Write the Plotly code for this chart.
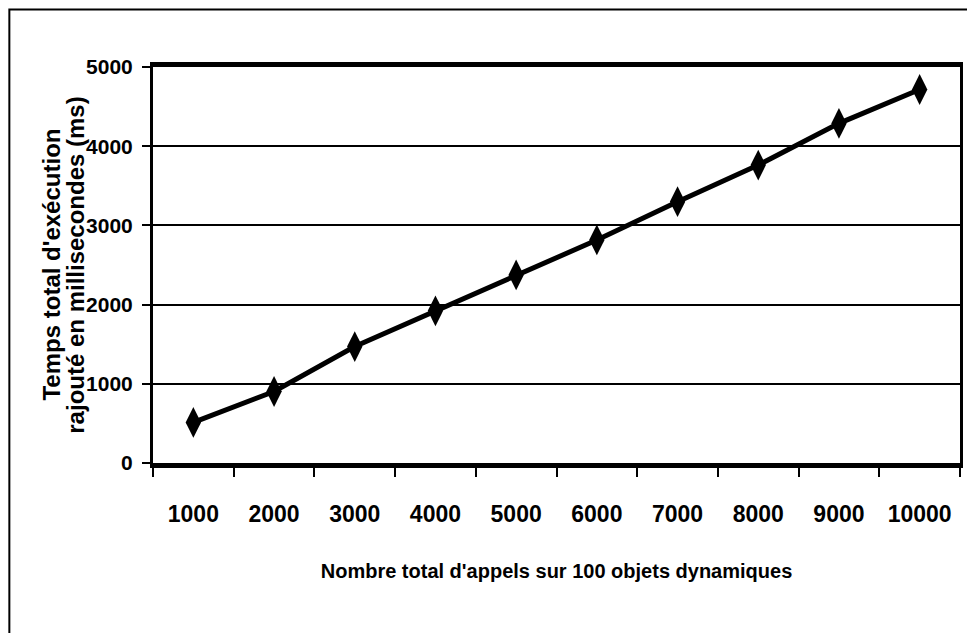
import plotly.graph_objects as go

categories = ["1000", "2000", "3000", "4000", "5000", "6000", "7000", "8000", "9000", "10000"]
temps_ms = [512, 903, 1470, 1921, 2375, 2816, 3299, 3762, 4288, 4716]
y_ticks = [0, 1000, 2000, 3000, 4000, 5000]
y_title_lines = ["Temps total d'exécution", "rajouté en millisecondes (ms)"]
x_title = "Nombre total d'appels sur 100 objets dynamiques"

font_family = "Liberation Sans, Arial, sans-serif"

fig = go.Figure()
fig.add_trace(go.Scatter(
    x=categories, y=temps_ms, mode="lines+markers",
    line=dict(color="black", width=5),
    marker=dict(symbol="diamond-tall", size=22, color="black"),
    showlegend=False,
))

title_x = [-0.127, -0.097]
annotations = [dict(
    text=t, xref="paper", yref="paper", x=xp, y=0.5,
    xanchor="center", yanchor="middle", textangle=-90, showarrow=False,
    font=dict(family=font_family, size=24, color="black", weight="bold"),
) for t, xp in zip(y_title_lines, title_x)]

fig.update_layout(
    width=967, height=625,
    margin=dict(l=145, r=15, t=59, b=170),
    paper_bgcolor="white", plot_bgcolor="white",
    xaxis=dict(
        type="category", range=[-0.5, 9.5], tickson="boundaries",
        ticks="outside", ticklen=9, tickwidth=2, tickcolor="black",
        showline=True, linecolor="black", linewidth=5, mirror=True,
        showgrid=False, zeroline=False, ticklabelstandoff=26,
        tickfont=dict(family=font_family, size=23, color="black", weight="bold"),
        title=dict(text=x_title,
                   font=dict(family=font_family, size=20, color="black", weight="bold"),
                   standoff=40),
    ),
    yaxis=dict(
        range=[0, 5000], tickvals=y_ticks,
        ticks="outside", ticklen=8, tickwidth=2, tickcolor="black",
        showline=True, linecolor="black", linewidth=3, mirror=True,
        showgrid=True, gridcolor="black", gridwidth=2, zeroline=False,
        ticklabelstandoff=5,
        tickfont=dict(family=font_family, size=21, color="black", weight="bold"),
    ),
    annotations=annotations,
    shapes=[dict(type="rect", xref="paper", yref="paper",
                 x0=-0.178, x1=1.05, y0=-0.6, y1=1.145,
                 line=dict(color="black", width=2))],
)

fig.write_html("out.html")
